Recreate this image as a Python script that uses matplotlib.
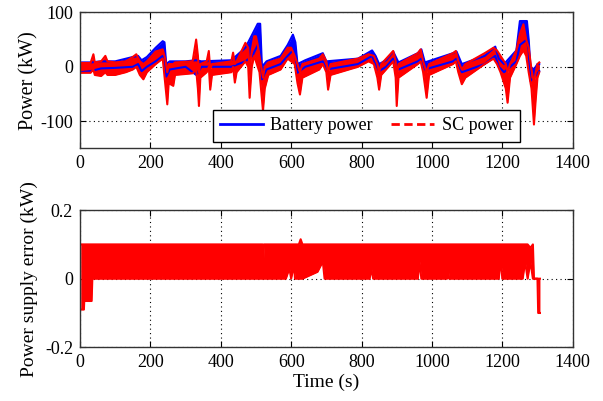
import matplotlib
matplotlib.use("Agg")
import matplotlib.pyplot as plt
from matplotlib.lines import Line2D

plt.rcParams['font.family'] = ['Liberation Serif', 'DejaVu Serif']
plt.rcParams['font.size'] = 13

# ---- Battery power envelope (kW) ----
bat_t = [0, 30, 60, 100, 150, 165, 175, 190, 215, 235, 240, 245, 255, 300, 330, 345,
         430, 470, 490, 505, 512, 517, 530, 570, 590, 605, 612, 618, 640, 690, 700,
         790, 830, 840, 850, 870, 890, 905, 960, 970, 980, 1060, 1070, 1085, 1150,
         1180, 1190, 1205, 1240, 1250, 1270, 1275, 1280, 1290, 1300, 1305]
bat_lo = [-10, -8, -3, -2, 0, 5, -8, 0, 10, 20, 15, -18, -5, 0, -15, 0,
          0, 10, 20, 40, 30, -23, -5, 5, 20, 30, 20, -11, 0, 10, -5,
          5, 20, 5, -8, 0, 15, -5, 10, 15, -5, 10, 15, -10, 5,
          20, 0, -10, 10, 40, 50, 30, -26, -20, -12, -8]
bat_hi = [8, 8, 10, 10, 18, 20, 12, 18, 35, 47, 45, 5, 10, 10, 12, 10,
          12, 35, 60, 79, 79, 0, 10, 20, 40, 59, 45, 5, 12, 25, 10,
          15, 30, 20, 5, 12, 28, 8, 25, 32, 8, 25, 28, 5, 20,
          37, 15, 5, 30, 84, 84, 50, 0, -5, 5, 5]

# ---- SC power envelope (kW) ----
sc_t = [0, 30, 38, 42, 60, 72, 78, 100, 130, 150, 160, 170, 180, 190, 215, 235, 242,
        248, 252, 265, 270, 320, 330, 335, 338, 342, 360, 366, 370, 375, 430, 435,
        440, 445, 470, 478, 482, 488, 495, 500, 505, 510, 520, 525, 535, 570, 590,
        600, 610, 618, 625, 632, 680, 690, 700, 705, 712, 790, 820, 835, 845, 850,
        856, 890, 897, 900, 905, 960, 968, 975, 985, 992, 1060, 1068, 1075, 1085,
        1095, 1150, 1175, 1185, 1195, 1210, 1215, 1222, 1240, 1250, 1260, 1268,
        1275, 1283, 1290, 1295, 1300, 1305]
sc_lo = [-11, -11, -5, -15, -17, -10, -15, -15, -10, -5, 0, -15, -23, -10, 5, 15, -30,
         -69, -30, -35, -15, -12, -5, -40, -72, -20, -10, 0, -42, -15, -10, 0,
         -29, -10, 10, 0, -57, 0, 20, 10, 0, -10, -81, -40, -15, -5, 15,
         10, 5, -30, -51, -20, -5, 5, -10, -42, -15, 0, 10, 5, -20, -42,
         -15, 10, -20, -72, -20, 5, 10, -10, -57, -15, 5, 10, -10, -32,
         -20, 5, 15, 5, -10, -40, -66, -20, 5, 20, 30, 20,
         -10, -40, -106, -60, -20, -10]
sc_hi = [7, 7, 23, 8, 10, 20, 10, 8, 10, 18, 23, 10, 5, 10, 28, 32, 15,
         -10, 5, 5, 8, 10, 50, 20, -10, 5, 10, 29, -5, 5, 10, 26,
         5, 10, 44, 35, -10, 30, 56, 56, 40, 20, -20, 0, 8, 15, 35,
         35, 20, 5, -10, 5, 15, 23, 10, -10, 5, 15, 23, 20, 5, -10,
         5, 29, 10, -20, 5, 25, 32, 10, -10, 5, 25, 29, 10, -5,
         5, 25, 35, 30, 20, 5, -10, 5, 30, 60, 78, 50,
         35, -5, -30, -10, 5, 8]

# ---- Power supply error envelope (kW) ----
err_t = [2, 11, 12, 33, 35, 228, 230, 232, 519, 521, 523, 585, 595, 600, 608, 611,
         622, 627, 632, 675, 690, 695, 823, 828, 833, 960, 965, 970, 1043, 1046, 1049,
         1190, 1196, 1200, 1258, 1265, 1272, 1280, 1287, 1290, 1300, 1302, 1307]
err_lo = [-0.09, -0.09, -0.065, -0.065, 0, 0, 0.05, 0, 0, 0, 0, 0, 0.03, 0, 0.04, 0,
          0, 0, 0, 0.02, 0.05, 0, 0, 0.03, 0, 0, 0.05, 0, 0, 0.03, 0,
          0, 0.06, 0, 0, 0.05, 0, 0.05, 0, 0, 0, -0.1, -0.1]
err_hi = [0.1, 0.1, 0.1, 0.1, 0.1, 0.1, 0.1, 0.1, 0.1, 0.05, 0.1, 0.1, 0.1, 0.1, 0.1, 0.1,
          0.1, 0.115, 0.1, 0.1, 0.1, 0.1, 0.1, 0.1, 0.1, 0.1, 0.1, 0.1, 0.1, 0.1, 0.1,
          0.1, 0.1, 0.1, 0.1, 0.1, 0.1, 0.09, 0.1, 0, 0, 0, 0]

x_ticks = [0, 200, 400, 600, 800, 1000, 1200, 1400]
y1_ticks = [-100, 0, 100]
y2_ticks = [-0.2, 0, 0.2]

BLUE = '#0000ff'
RED = '#ff0000'

fig = plt.figure(figsize=(6.03, 4.01), dpi=100)
ax1 = fig.add_axes([0.1327, 0.6297, 0.817, 0.3396])
ax2 = fig.add_axes([0.1327, 0.134, 0.817, 0.342])

# top panel
ax1.fill_between(bat_t, bat_lo, bat_hi, color=BLUE, lw=0)
ax1.plot(bat_t, bat_lo, color=BLUE, lw=1.5)
ax1.plot(bat_t, bat_hi, color=BLUE, lw=1.5)
ax1.fill_between(sc_t, sc_lo, sc_hi, color=RED, lw=0)
ax1.plot(sc_t, sc_lo, color=RED, lw=1.5)
ax1.plot(sc_t, sc_hi, color=RED, lw=1.5)

ax1.set_xlim(0, 1400)
ax1.set_ylim(-150, 100)
ax1.set_xticks(x_ticks)
ax1.set_yticks(y1_ticks)
ax1.set_yticklabels([str(v) for v in y1_ticks])
ax1.set_ylabel('Power (kW)', fontsize=14.5)
ax1.yaxis.set_label_coords(-0.085, 0.5)

handles = [Line2D([], [], color=BLUE, lw=2, ls='-'),
           Line2D([], [], color=RED, lw=2, ls=(0, (3, 1.6)))]
leg = ax1.legend(handles, ['Battery power', 'SC power'], loc='lower right',
                 bbox_to_anchor=(0.894, 0.05), ncol=2, fancybox=False,
                 edgecolor='black', framealpha=1, handlelength=2.4,
                 borderaxespad=0, columnspacing=1.0, handletextpad=0.4,
                 borderpad=0.4, fontsize=13)
leg.get_frame().set_linewidth(1.0)

# bottom panel
ax2.fill_between(err_t, err_lo, err_hi, color=RED, lw=0)
ax2.plot(err_t, err_lo, color=RED, lw=1.5)
ax2.plot(err_t, err_hi, color=RED, lw=1.5)
ax2.set_xlim(0, 1400)
ax2.set_ylim(-0.2, 0.2)
ax2.set_xticks(x_ticks)
ax2.set_yticks(y2_ticks)
ax2.set_yticklabels(['-0.2', '0', '0.2'])
ax2.set_ylabel('Power supply error (kW)', fontsize=14)
ax2.yaxis.set_label_coords(-0.085, 0.5)
ax2.set_xlabel('Time (s)', fontsize=14, labelpad=2)

for ax in (ax1, ax2):
    ax.grid(True, color='black', ls=(0, (1, 3)), lw=0.8)
    ax.set_axisbelow(True)
    ax.tick_params(direction='in', top=True, right=True, length=4, width=0.8,
                   labelsize=13, pad=5)
    for s in ax.spines.values():
        s.set_linewidth(1.0)
        s.set_color('#333333')

fig.savefig('out.png', dpi=100)
